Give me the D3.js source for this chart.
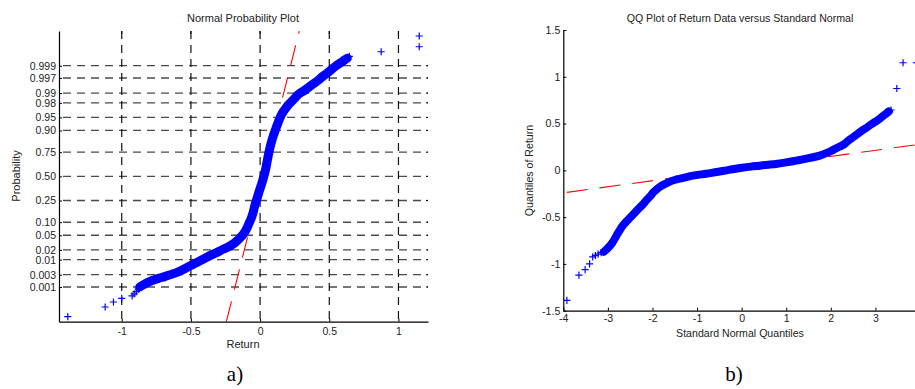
<!DOCTYPE html>
<html><head><meta charset="utf-8">
<script src="https://cdn.jsdelivr.net/npm/d3@7/dist/d3.min.js"></script>
<style>
html,body{margin:0;padding:0;background:#fff;}
svg{display:block;font-family:"Liberation Sans",Arial,sans-serif;}
</style></head><body>
<svg id="chart" width="915" height="389"></svg>
<script>
// ---- data (sorted sample: theoretical normal quantile vs observed return) ----
const normalQuantiles = [-3.92,-3.65,-3.51,-3.41,-3.34,-3.28,-3.22,-3.15,-3.09,-3.03,-2.97,-2.91,-2.85,-2.80,-2.74,-2.69,-2.63,-2.58,-2.50,-2.43,-2.35,-2.28,-2.20,-2.13,-2.05,-1.98,-1.90,-1.83,-1.72,-1.61,-1.46,-1.31,-1.15,-1.00,-0.80,-0.60,-0.40,-0.20,0.00,0.20,0.40,0.60,0.80,1.00,1.15,1.30,1.45,1.60,1.75,1.90,2.00,2.10,2.20,2.30,2.40,2.50,2.60,2.70,2.80,2.90,3.00,3.10,3.18,3.25,3.30,3.35,3.48,3.62,3.92];
const returns = [-1.39,-1.12,-1.06,-1.00,-0.925,-0.91,-0.895,-0.88,-0.87,-0.845,-0.815,-0.78,-0.735,-0.69,-0.645,-0.605,-0.57,-0.545,-0.505,-0.47,-0.43,-0.395,-0.355,-0.315,-0.275,-0.235,-0.20,-0.175,-0.145,-0.12,-0.097,-0.08,-0.062,-0.05,-0.037,-0.021,-0.005,0.012,0.027,0.040,0.050,0.060,0.071,0.085,0.097,0.111,0.125,0.14,0.158,0.185,0.205,0.23,0.255,0.28,0.32,0.355,0.39,0.425,0.455,0.49,0.52,0.553,0.585,0.61,0.63,0.645,0.875,1.15,1.15];
// reference line through the quartiles: return = fitMu + fitSigma * z
const fitMu = 0.0194, fitSigma = 0.0649;

// ---- tick definitions ----
const probTicks = [0.001,0.003,0.01,0.02,0.05,0.10,0.25,0.50,0.75,0.90,0.95,0.98,0.99,0.997,0.999];
const probTickLabels = ["0.001","0.003","0.01","0.02","0.05","0.10","0.25","0.50","0.75","0.90","0.95","0.98","0.99","0.997","0.999"];
const returnTicks = [-1,-0.5,0,0.5,1];
const returnTickLabels = ["-1","-0.5","0","0.5","1"];
const qqXTicks = [-4,-3,-2,-1,0,1,2,3];
const qqXTickLabels = ["-4","-3","-2","-1","0","1","2","3"];
const qqYTicks = [-1.5,-1,-0.5,0,0.5,1,1.5];
const qqYTickLabels = ["-1.5","-1","-0.5","0","0.5","1","1.5"];

// inverse standard normal CDF (Acklam)
function norminv(p){
  const a=[-3.969683028665376e+01,2.209460984245205e+02,-2.759285104469687e+02,1.383577518672690e+02,-3.066479806614716e+01,2.506628277459239e+00];
  const b=[-5.447609879822406e+01,1.615858368580409e+02,-1.556989798598866e+02,6.680131188771972e+01,-1.328068155288572e+01];
  const c=[-7.784894002430293e-03,-3.223964580411365e-01,-2.400758277161838e+00,-2.549732539343734e+00,4.374664141464968e+00,2.938163982698783e+00];
  const d=[7.784695709041462e-03,3.224671290700398e-01,2.445134137142996e+00,3.754408661907416e+00];
  const pl=0.02425, ph=1-pl; let q,r;
  if(p<pl){q=Math.sqrt(-2*Math.log(p));return (((((c[0]*q+c[1])*q+c[2])*q+c[3])*q+c[4])*q+c[5])/((((d[0]*q+d[1])*q+d[2])*q+d[3])*q+1);}
  if(p<=ph){q=p-0.5;r=q*q;return (((((a[0]*r+a[1])*r+a[2])*r+a[3])*r+a[4])*r+a[5])*q/(((((b[0]*r+b[1])*r+b[2])*r+b[3])*r+b[4])*r+1);}
  q=Math.sqrt(-2*Math.log(1-p));return -(((((c[0]*q+c[1])*q+c[2])*q+c[3])*q+c[4])*q+c[5])/((((d[0]*q+d[1])*q+d[2])*q+d[3])*q+1);
}

const pts = normalQuantiles.map((z,i)=>({z, r: returns[i]}));
const bandPts = pts.filter(p => p.z >= -3.09 && p.z <= 3.30);
const svg = d3.select("#chart");
const BLUE = "#0000ff", RED = "#ff0000";
const plus = "M-3.6,0H3.6M0,-3.6V3.6";

// ================= panel a) normal probability plot =================
const L = {x0:59, x1:428, y0:31, y1:321.7};
const xL = d3.scaleLinear().domain([-1.4535, 1.2135]).range([L.x0, L.x1]);
const yL = d3.scaleLinear().domain([-4.06, 4.06]).range([L.y1, L.y0]);
const probZ = probTicks.map(norminv);

svg.append("clipPath").attr("id","clipL").append("rect")
  .attr("x",L.x0).attr("y",L.y0).attr("width",L.x1-L.x0).attr("height",L.y1-L.y0);
const gL = svg.append("g");

// grid
gL.append("g").selectAll("line").data(probZ).join("line")
  .attr("x1",L.x0).attr("x2",L.x1).attr("y1",d=>yL(d)).attr("y2",d=>yL(d))
  .attr("stroke","#4a4a4a").attr("stroke-width",1.3).attr("stroke-dasharray","8,6").attr("stroke-dashoffset",-4);
gL.append("g").selectAll("line").data(returnTicks).join("line")
  .attr("x1",d=>xL(d)).attr("x2",d=>xL(d)).attr("y1",L.y0).attr("y2",L.y1)
  .attr("stroke","#111").attr("stroke-width",1.2).attr("stroke-dasharray","8,6");

// reference line (return on x, z on y)
const plotL = gL.append("g").attr("clip-path","url(#clipL)");
const zLo = yL.domain()[0], zHi = yL.domain()[1];
plotL.append("line")
  .attr("x1",xL(fitMu+fitSigma*zLo)).attr("y1",yL(zLo))
  .attr("x2",xL(fitMu+fitSigma*zHi)).attr("y2",yL(zHi))
  .attr("stroke",RED).attr("stroke-width",1.1).attr("stroke-dasharray","21,12");
// data band + markers
plotL.append("path").datum(bandPts)
  .attr("d", d3.line().x(d=>xL(d.r)).y(d=>yL(d.z)).curve(d3.curveMonotoneY))
  .attr("fill","none").attr("stroke",BLUE).attr("stroke-width",9).attr("stroke-linejoin","round").attr("stroke-linecap","round");
plotL.append("g").selectAll("path").data(pts).join("path")
  .attr("transform",d=>`translate(${xL(d.r)},${yL(d.z)})`)
  .attr("d",plus).attr("stroke",BLUE).attr("stroke-width",1.2).attr("fill","none");

// axes
const axLb = gL.append("g").attr("transform",`translate(0,${L.y1})`)
  .call(d3.axisBottom(xL).tickValues(returnTicks).tickFormat((d,i)=>returnTickLabels[i]).tickSizeInner(-3).tickSizeOuter(0).tickPadding(6));
const axLl = gL.append("g").attr("transform",`translate(${L.x0},0)`)
  .call(d3.axisLeft(yL).tickValues(probZ).tickFormat((d,i)=>probTickLabels[i]).tickSizeInner(-3).tickSizeOuter(0).tickPadding(3));
[axLb,axLl].forEach(a=>{
  a.select(".domain").attr("stroke","#000").attr("stroke-width",1.2);
  a.selectAll(".tick line").attr("stroke","#000");
  a.selectAll("text").attr("font-size",10.5).attr("fill","#222").attr("font-family","Liberation Sans, Arial, sans-serif");
});
// small ticks on top/right edges
gL.append("g").selectAll("line").data(returnTicks).join("line")
  .attr("x1",d=>xL(d)).attr("x2",d=>xL(d)).attr("y1",L.y0).attr("y2",L.y0+3).attr("stroke","#000");
gL.append("g").selectAll("line").data(probZ).join("line")
  .attr("x1",L.x1-2).attr("x2",L.x1).attr("y1",d=>yL(d)).attr("y2",d=>yL(d)).attr("stroke","#000");

gL.append("text").attr("x",243).attr("y",22).attr("text-anchor","middle").attr("font-size",11).attr("fill","#222").text("Normal Probability Plot");
gL.append("text").attr("x",243).attr("y",348).attr("text-anchor","middle").attr("font-size",11).attr("fill","#222").text("Return");
gL.append("text").attr("transform","translate(20,176) rotate(-90)").attr("text-anchor","middle").attr("font-size",11).attr("fill","#222").text("Probability");

// ================= panel b) QQ plot =================
const R = {x0:563.3, x1:920, y0:30, y1:310.7};
const xR = d3.scaleLinear().domain([-4,4]).range([R.x0,R.x1]);
const yR = d3.scaleLinear().domain([-1.5,1.5]).range([R.y1,R.y0]);
svg.append("clipPath").attr("id","clipR").append("rect")
  .attr("x",R.x0).attr("y",R.y0).attr("width",R.x1-R.x0).attr("height",R.y1-R.y0);
const gR = svg.append("g");
const plotR = gR.append("g").attr("clip-path","url(#clipR)");
const zMin = d3.min(normalQuantiles), zMax = d3.max(normalQuantiles);
plotR.append("line")
  .attr("x1",xR(zMin)).attr("y1",yR(fitMu+fitSigma*zMin))
  .attr("x2",xR(zMax)).attr("y2",yR(fitMu+fitSigma*zMax))
  .attr("stroke",RED).attr("stroke-width",1.1).attr("stroke-dasharray","21,12");
plotR.append("path").datum(bandPts)
  .attr("d", d3.line().x(d=>xR(d.z)).y(d=>yR(d.r)).curve(d3.curveMonotoneX))
  .attr("fill","none").attr("stroke",BLUE).attr("stroke-width",8).attr("stroke-linejoin","round").attr("stroke-linecap","round");
plotR.append("g").selectAll("path").data(pts).join("path")
  .attr("transform",d=>`translate(${xR(d.z)},${yR(d.r)})`)
  .attr("d",plus).attr("stroke",BLUE).attr("stroke-width",1.2).attr("fill","none");

const axRb = gR.append("g").attr("transform",`translate(0,${R.y1})`)
  .call(d3.axisBottom(xR).tickValues(qqXTicks).tickFormat((d,i)=>qqXTickLabels[i]).tickSizeInner(-3).tickSizeOuter(0).tickPadding(4));
const axRl = gR.append("g").attr("transform",`translate(${R.x0},0)`)
  .call(d3.axisLeft(yR).tickValues(qqYTicks).tickFormat((d,i)=>qqYTickLabels[i]).tickSizeInner(-3).tickSizeOuter(0).tickPadding(3));
[axRb,axRl].forEach(a=>{
  a.select(".domain").attr("stroke","#000").attr("stroke-width",1.2);
  a.selectAll(".tick line").attr("stroke","#000");
  a.selectAll("text").attr("font-size",10.6).attr("fill","#222").attr("font-family","Liberation Sans, Arial, sans-serif");
});
gR.append("text").attr("x",740).attr("y",21.5).attr("text-anchor","middle").attr("font-size",10.6).attr("fill","#222").text("QQ Plot of Return Data versus Standard Normal");
gR.append("text").attr("x",740).attr("y",337).attr("text-anchor","middle").attr("font-size",10.6).attr("fill","#222").text("Standard Normal Quantiles");
gR.append("text").attr("transform","translate(533,170.5) rotate(-90)").attr("text-anchor","middle").attr("font-size",10.6).attr("fill","#222").text("Quantiles of Return");

// captions
svg.append("text").attr("x",235).attr("y",381).attr("text-anchor","middle").attr("font-family","Liberation Serif, Times New Roman, serif").attr("font-size",21).attr("fill","#000").text("a)");
svg.append("text").attr("x",734).attr("y",381).attr("text-anchor","middle").attr("font-family","Liberation Serif, Times New Roman, serif").attr("font-size",21).attr("fill","#000").text("b)");
</script>
</body></html>
